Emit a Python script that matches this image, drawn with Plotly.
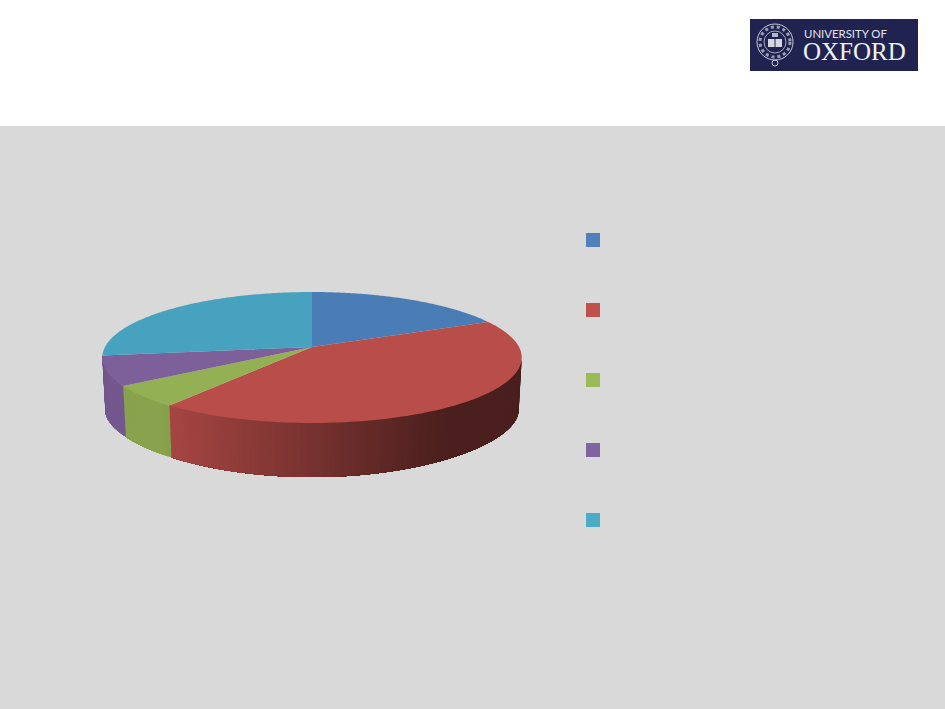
"""Five-slice 3D style pie on a slide background, with the Oxford logo block."""

from __future__ import annotations

import numpy as np
import plotly.graph_objects as go

CATEGORIES = ["Category 1", "Category 2", "Category 3", "Category 4", "Category 5"]
SHARES = [18.1, 42.15, 5.35, 7.3, 27.1]

TOP_COLORS = ["#4A7CB6", "#B84D49", "#94B054", "#7D5F9A", "#46A2BE"]
SIDE_COLORS = [(74, 124, 182), (184, 77, 73), (148, 176, 84), (125, 95, 154), (70, 162, 190)]
LEGEND_COLORS = ["#4F81BD", "#C0504D", "#9BBB59", "#8064A2", "#4BACC6"]
LEGEND_Y = [240, 310, 380, 450, 520]

WIDTH, HEIGHT = 945, 709
CX, CY = 312, 347
RIM_A, RIM_B, PERSP = 207.0, 63.8, 0.1603
FLOOR_CY, FLOOR_B, FLOOR_PERSP, FLOOR_SCALE = 400, 56.7, 0.264, 0.986
BACKGROUND = "#D9D9D9"
NAVY = "#20234F"


def rim(theta):
    """Project pie angles (radians, clockwise from the back) on to the top rim."""
    u, v = np.sin(theta), np.cos(theta)
    w = 1 + PERSP * v
    return CX + RIM_A * u / w, CY - RIM_B * v / w


def floor(theta):
    """Same angles on the lower edge of the wall."""
    u, v = np.sin(theta), np.cos(theta)
    w = 1 + PERSP * v
    return CX + FLOOR_SCALE * RIM_A * u / w, FLOOR_CY - FLOOR_B * v / (1 + FLOOR_PERSP * v)


def side_color(index, x):
    factor = min(0.92, 0.9 - (x - 172) * 0.0018)
    factor = max(0.4, factor)
    r, g, b = SIDE_COLORS[index]
    return f"rgb({r * factor:.0f},{g * factor:.0f},{b * factor:.0f})"


edges = np.radians(np.cumsum([0] + SHARES) / sum(SHARES) * 360)
front_start = np.arccos(-PERSP)

fig = go.Figure()

# side wall: each strip runs to the end of its slice and the next paints over it,
# that way there are no seams in the shading
for i in range(len(SHARES)):
    start = max(edges[i], front_start)
    end = min(edges[i + 1], edges[4])
    if end <= start:
        continue
    cuts = np.linspace(start, end, max(2, int(np.degrees(end - start)) + 1))
    for a in cuts[:-1]:
        arc = np.linspace(a, end, 60)
        tx, ty = rim(arc)
        bx, by = floor(arc)
        fig.add_trace(
            go.Scatter(
                x=np.concatenate([tx, bx[::-1]]),
                y=np.concatenate([ty, by[::-1]]),
                mode="none",
                fill="toself",
                fillcolor=side_color(i, rim(a)[0]),
                hoverinfo="skip",
                showlegend=False,
            )
        )

# top face
for i, name in enumerate(CATEGORIES):
    arc = np.linspace(edges[i], edges[i + 1], 120)
    x, y = rim(arc)
    fig.add_trace(
        go.Scatter(
            x=np.concatenate([[CX], x, [CX]]),
            y=np.concatenate([[CY], y, [CY]]),
            mode="none",
            fill="toself",
            fillcolor=TOP_COLORS[i],
            name=name,
            showlegend=False,
        )
    )

# legend keys (the labels are blank in the original)
fig.add_trace(
    go.Scatter(
        x=[593] * len(LEGEND_Y),
        y=LEGEND_Y,
        mode="markers",
        marker=dict(symbol="square", size=14, color=LEGEND_COLORS, line=dict(width=0)),
        text=CATEGORIES,
        hoverinfo="text",
        showlegend=False,
    )
)

shapes = [
    dict(type="rect", x0=0, x1=WIDTH, y0=126, y1=HEIGHT, fillcolor=BACKGROUND, line_width=0, layer="below"),
    dict(type="rect", x0=750, x1=918, y0=19, y1=71, fillcolor=NAVY, line_width=0, layer="below"),
    # crest
    dict(type="circle", x0=757, x1=793, y0=24, y1=60, line=dict(color="#C9CBD8", width=1), layer="below"),
    dict(type="circle", x0=760, x1=790, y0=27, y1=57, line=dict(color="#9A9DB8", width=3, dash="dot"), layer="below"),
    dict(type="circle", x0=764, x1=786, y0=31, y1=53, line=dict(color="#C9CBD8", width=0.8), layer="below"),
    dict(type="rect", x0=768, x1=782, y0=39, y1=47, fillcolor="#D5D6E0", line_width=0, layer="below"),
    dict(type="line", x0=775, x1=775, y0=39, y1=47, line=dict(color=NAVY, width=1), layer="below"),
    dict(type="rect", x0=772, x1=778, y0=33, y1=37, fillcolor="#B4B6CA", line_width=0, layer="below"),
    dict(type="circle", x0=772, x1=778, y0=60, y1=66, line=dict(color="#C9CBD8", width=1), layer="below"),
]

annotations = [
    dict(x=801.5, y=33, text="UNIVERSITY OF", showarrow=False, xanchor="left", yanchor="middle",
         font=dict(family="Lato", size=11.4, color="#E4E5EC")),
    dict(x=801, y=51.5, text="OXFORD", showarrow=False, xanchor="left", yanchor="middle",
         font=dict(family="Liberation Serif", size=25, color="#F0F0F4")),
]

fig.update_layout(
    width=WIDTH,
    height=HEIGHT,
    margin=dict(l=0, r=0, t=0, b=0),
    paper_bgcolor="#FFFFFF",
    plot_bgcolor="#FFFFFF",
    shapes=shapes,
    annotations=annotations,
    showlegend=False,
)
fig.update_xaxes(range=[0, WIDTH], visible=False, fixedrange=True)
fig.update_yaxes(range=[HEIGHT, 0], visible=False, fixedrange=True)

fig.write_html("out.html", post_script="document.body.style.margin='0';", config=dict(displayModeBar=False))
